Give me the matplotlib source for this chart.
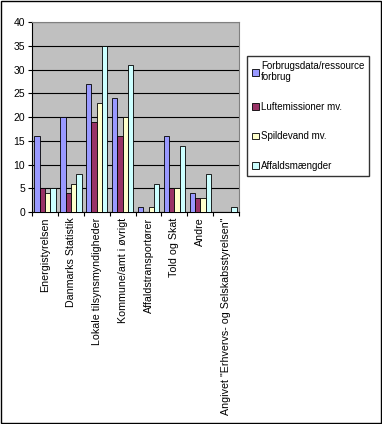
import matplotlib
matplotlib.use("Agg")
import matplotlib.pyplot as plt
import numpy as np
from matplotlib.patches import Rectangle

plt.rcParams['font.family'] = ['Liberation Sans', 'DejaVu Sans']

kategorier = ["Energistyrelsen", "Danmarks Statistik", "Lokale tilsynsmyndigheder",
              "Kommune/amt i øvrigt", "Affaldstransportører", "Told og Skat", "Andre",
              'Angivet "Erhvervs- og Selskabsstyrelsen"']
serier = ["Forbrugsdata/ressource\nforbrug", "Luftemissioner mv.", "Spildevand mv.", "Affaldsmængder"]
forbrug = [16, 20, 27, 24, 1, 16, 4, 0]
luft = [5, 4, 19, 16, 0, 5, 3, 0]
spildevand = [4, 6, 23, 20, 1, 5, 3, 0]
affald = [5, 8, 35, 31, 6, 14, 8, 1]
farver = ["#9999FF", "#993366", "#FFFFCC", "#CCFFFF"]

fig = plt.figure(figsize=(3.82, 4.24), dpi=100)
fig.patches.append(Rectangle((0.003, 0.003), 0.994, 0.994, transform=fig.transFigure,
                             fill=False, edgecolor="black", linewidth=1))
ax = fig.add_axes([0.084, 0.5, 0.542, 0.448])
ax.set_facecolor("#C0C0C0")

x = np.arange(len(kategorier))
b = 0.205
for i, (vals, c, navn) in enumerate(zip([forbrug, luft, spildevand, affald], farver, serier)):
    ax.bar(x + (i - 1.5) * b, vals, b, color=c, edgecolor="black", linewidth=0.6,
           label=navn, zorder=3)

ax.set_xlim(-0.5, len(kategorier) - 0.5)
ax.set_ylim(0, 40)
ax.set_yticks(range(0, 41, 5))
ax.yaxis.grid(True, color="black", linewidth=0.8, zorder=1)
ax.set_axisbelow(True)
ax.set_xticks(np.arange(-0.5, len(kategorier)), minor=False)
ax.set_xticklabels([])
ax.set_xticks(x, minor=True)
ax.set_xticklabels(kategorier, minor=True, rotation=90, ha="center", va="top", fontsize=7.7)
ax.tick_params(axis="x", which="minor", length=0, pad=4)
ax.tick_params(axis="x", which="major", length=3, width=0.8)
ax.tick_params(axis="y", length=3, width=0.8, labelsize=7.5, pad=2)
for s in ["top", "right"]:
    ax.spines[s].set_color("#808080")

leg = fig.legend(loc="upper left", bbox_to_anchor=(0.647, 0.868), fontsize=7,
                 frameon=True, fancybox=False, edgecolor="black", handlelength=0.7,
                 handleheight=0.7, handletextpad=0.2, labelspacing=2.0,
                 borderpad=0.5, borderaxespad=0)
leg.get_frame().set_linewidth(1)

fig.savefig("out.png", dpi=100)
